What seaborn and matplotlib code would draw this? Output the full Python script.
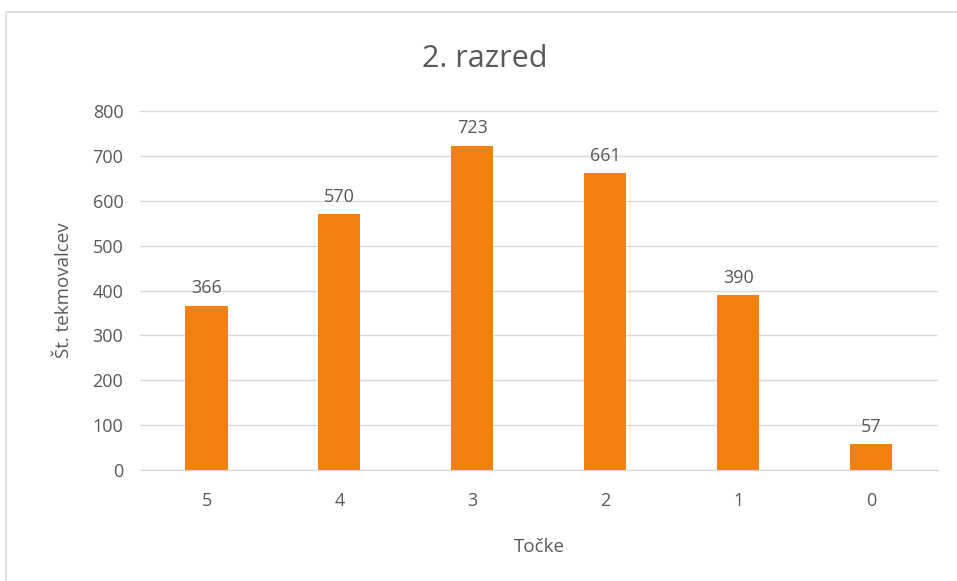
import pandas as pd
import matplotlib.pyplot as plt
import seaborn as sns
from matplotlib.patches import Rectangle

# data
tocke = ["5", "4", "3", "2", "1", "0"]
st_tekmovalcev = [366, 570, 723, 661, 390, 57]

df = pd.DataFrame({"Točke": tocke, "Št. tekmovalcev": st_tekmovalcev})

sns.set_style("white")
plt.rcParams['font.family'] = ['Open Sans', 'DejaVu Sans']
text_col = "#595959"
grid_col = "#D9D9D9"
bar_col = "#F0800F"

fig = plt.figure(figsize=(9.57, 5.81), dpi=100)
ax = fig.add_axes([0.1463, 0.191, 0.8337, 0.618])

sns.barplot(data=df, x="Točke", y="Št. tekmovalcev", color=bar_col,
            width=0.316, saturation=1, linewidth=0, ax=ax)

ax.set_ylim(0, 800)
ax.set_yticks(range(0, 801, 100))
ax.yaxis.grid(True, color=grid_col, linewidth=1)
ax.set_axisbelow(True)
for s in ["top", "right", "left"]:
    ax.spines[s].set_visible(False)
ax.spines["bottom"].set_color(grid_col)
ax.tick_params(axis="both", length=0, labelsize=13, colors=text_col, pad=12)
ax.tick_params(axis="x", pad=16)

for c in ax.containers:
    ax.bar_label(c, padding=6, fontsize=13, color=text_col)

ax.set_xlabel("Točke", fontsize=13.5, color=text_col, labelpad=20)
ax.set_ylabel("Št. tekmovalcev", fontsize=13.5, color=text_col, labelpad=14)
fig.text(0.507, 0.899, "2. razred", ha="center", va="center", fontsize=22, color=text_col)

fig.patches.append(Rectangle((6 / 957, -0.1), 1.2, 1.1 - 12 / 581, transform=fig.transFigure,
                             fill=False, edgecolor="#D9D9D9", linewidth=1.2))

fig.savefig("out.png", dpi=100)
